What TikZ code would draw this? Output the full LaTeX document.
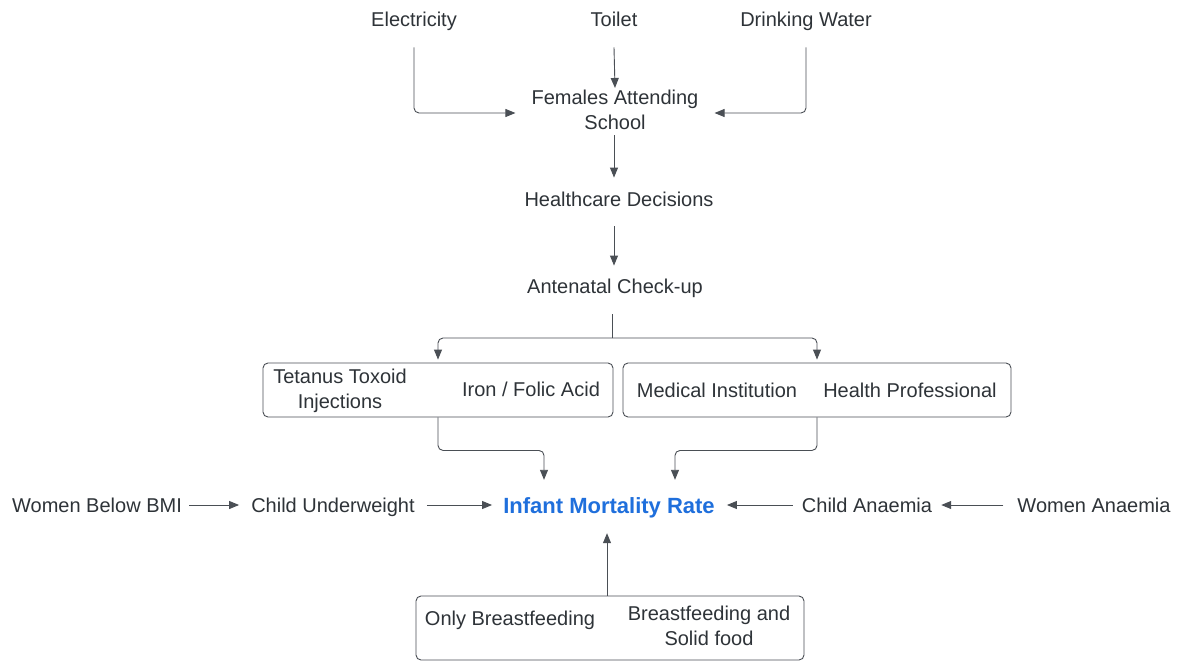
\documentclass[tikz,border=0pt]{standalone}
\usepackage{fontspec}
\setmainfont{Liberation Sans}
\usetikzlibrary{arrows.meta}
\definecolor{txt}{HTML}{2E3338}
\definecolor{ln}{HTML}{4A4F55}
\definecolor{imrblue}{HTML}{1F6FDC}
\begin{document}
\begin{tikzpicture}[x=1pt,y=-1pt,
  lbl/.style={font=\fontsize{20}{25}\selectfont, text=txt, inner sep=0pt, align=center},
  one/.style={lbl, text height=14.5pt, text depth=0pt},
  grp/.style={draw=ln, line width=0.9pt, rounded corners=5pt, inner sep=0pt},
  conn/.style={draw=ln, line width=0.9pt, rounded corners=5pt, -{Triangle[length=10pt,width=8pt]}},
  plain/.style={draw=ln, line width=0.9pt}]

% background and frame of the page
\useasboundingbox[fill=white] (0,0) rectangle (1181,662);

% top row of factors
\node[one] (elec) at (414,19) {Electricity};
\node[one] (toilet) at (614,19) {Toilet};
\node[one] (water) at (806,19) {Drinking Water};

% the central chain
\node[lbl] (fas) at (615,110) {Females Attending\\School};
\node[one] (hcd) at (619,199) {Healthcare Decisions};
\node[one] (anc) at (615,286) {Antenatal Check-up};

% the two grouped boxes
\node[grp, minimum width=350pt, minimum height=54pt] (tbox) at (438,390) {};
\node[lbl] (tt) at (340,391) {Tetanus Toxoid\\Injections};
\node[one] (ifa) at (531,389) {Iron / Folic Acid};
\node[grp, minimum width=388pt, minimum height=54pt] (mbox) at (817,390) {};
\node[one] (mi) at (717,390) {Medical Institution};
\node[one] (hp) at (910,390) {Health Professional};

% middle row
\node[one, font=\fontsize{22}{26}\selectfont\bfseries, text=imrblue, text height=16pt] (imr) at (609,505) {Infant Mortality Rate};
\node[one] (wbmi) at (97,505) {Women Below BMI};
\node[one] (cu) at (333,505) {Child Underweight};
\node[one] (ca) at (867,505) {Child Anaemia};
\node[one] (wa) at (1094,505) {Women Anaemia};

% feeding box
\node[grp, minimum width=388pt, minimum height=64pt] (bbox) at (610,628) {};
\node[one] (ob) at (510,618) {Only Breastfeeding};
\node[lbl] (bsf) at (709,626) {Breastfeeding and\\Solid food};

% connectors from the top
\draw[conn] ([yshift=-21pt]elec.south) |- ([xshift=-16pt,yshift=-3pt]fas.west);
\draw[conn] ([yshift=-21pt]toilet.south) -- ([yshift=2pt]fas.north);
\draw[conn] ([yshift=-21pt]water.south) |- ([xshift=16pt,yshift=-3pt]fas.east);
\draw[conn] ([xshift=-1pt,yshift=-5pt]fas.south) -- ([xshift=-5pt,yshift=14pt]hcd.north);
\draw[conn] ([xshift=-5pt,yshift=-20pt]hcd.south) -- ([xshift=-1pt,yshift=13pt]anc.north);

% split below the check-up
\coordinate (split) at (612,338);
\draw[plain] ([xshift=-3pt,yshift=-21pt]anc.south) -- (split);
\draw[conn] (split) -| ([yshift=3pt]tbox.north);
\draw[conn] (split) -| ([yshift=3pt]mbox.north);

% boxes into the rate
\draw[conn] (tbox.south) -- ++(0,33) -| ([xshift=-65pt,yshift=17pt]imr.north);
\draw[conn] (mbox.south) -- ++(0,33) -| ([xshift=66pt,yshift=17pt]imr.north);

% side arrows
\draw[conn] ([xshift=7pt]wbmi.east) -- ([xshift=-12pt]cu.west);
\draw[conn] ([xshift=12pt]cu.east) -- ([xshift=-11pt]imr.west);
\draw[conn] ([xshift=-9pt]ca.west) -- ([xshift=12pt]imr.east);
\draw[conn] ([xshift=-14pt]wa.west) -- ([xshift=9pt]ca.east);

% feeding into the rate
\draw[conn] ([xshift=-3pt]bbox.north) -- ([xshift=-2pt,yshift=-20pt]imr.south);

\end{tikzpicture}
\end{document}
